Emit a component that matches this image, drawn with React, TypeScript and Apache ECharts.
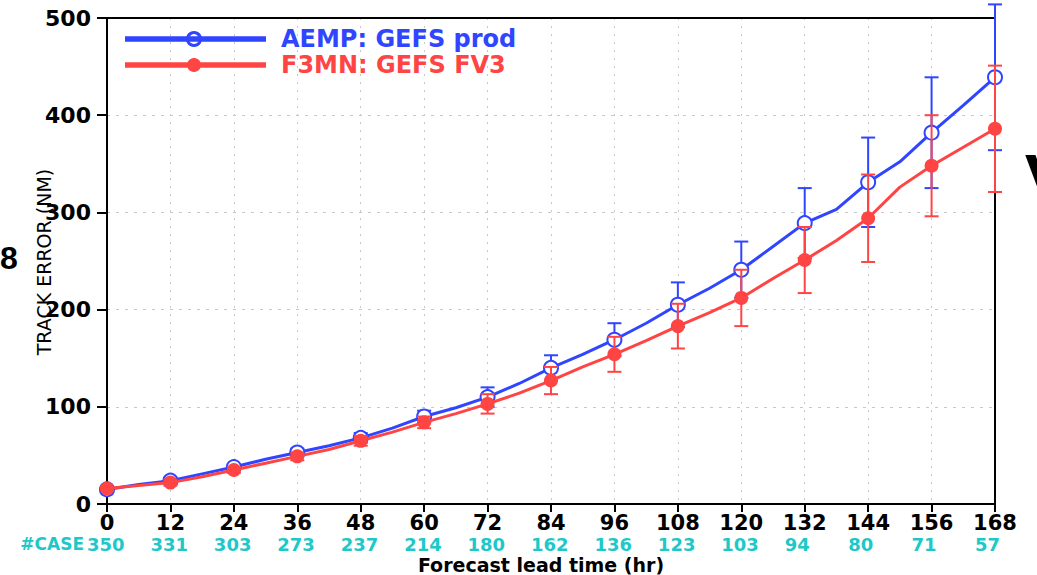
import React, { useEffect, useRef } from "react";
import * as echarts from "echarts";

// Forecast lead times (hours) of the plotted line points
const leadHours = [0, 6, 12, 18, 24, 30, 36, 42, 48, 54, 60, 66, 72, 78, 84, 90, 96, 102, 108, 114, 120, 126, 132, 138, 144, 150, 156, 162, 168];
// Mean track error (NM), 6-hourly
const aempTrack = [15, 20, 24, 31, 38, 46, 53, 60, 68, 78, 90, 99, 110, 124, 140, 154, 169, 186, 205, 222, 241, 265, 289, 303, 331, 352, 382, 410, 439];
const f3mnTrack = [16, 19, 22, 28, 35, 42, 49, 56, 65, 74, 84, 93, 103, 114, 127, 141, 154, 168, 183, 197, 212, 232, 251, 271, 294, 326, 348, 367, 386];
// 12-hourly marker / error bar times
const markerHours = [0, 12, 24, 36, 48, 60, 72, 84, 96, 108, 120, 132, 144, 156, 168];
// error bar half-widths (NM)
const aempErr = [2, 3, 3, 4, 5, 6, 10, 13, 17, 23, 29, 36, 46, 57, 75];
const f3mnErr = [2, 3, 3, 4, 5, 6, 10, 14, 18, 23, 29, 34, 45, 52, 65];
// number of cases
const caseCounts = [350, 331, 303, 273, 237, 214, 180, 162, 136, 123, 103, 94, 80, 71, 57];

const seriesNames = ["AEMP: GEFS prod", "F3MN: GEFS FV3"];
const BLUE = "#2f45ff";
const RED = "#ff4444";
const CYAN = "#1ec8c8";
const FONT = "DejaVu Sans";

function lineData(values: number[]) {
  return leadHours.map((h, i) =>
    markerHours.indexOf(h) >= 0 ? [h, values[i]] : { value: [h, values[i]], symbol: "none" }
  );
}

function errData(values: number[], errs: number[]) {
  return markerHours.map((h, i) => {
    const v = values[leadHours.indexOf(h)];
    return [h, v - errs[i], v + errs[i]];
  });
}

function errRender(color: string) {
  return (params: any, api: any) => {
    const x = api.value(0);
    const lo = api.coord([x, api.value(1)]);
    const hi = api.coord([x, api.value(2)]);
    const w = 7;
    const st = { stroke: color, lineWidth: 2 };
    return {
      type: "group",
      children: [
        { type: "line", shape: { x1: lo[0], y1: lo[1], x2: hi[0], y2: hi[1] }, style: st },
        { type: "line", shape: { x1: lo[0] - w, y1: lo[1], x2: lo[0] + w, y2: lo[1] }, style: st },
        { type: "line", shape: { x1: hi[0] - w, y1: hi[1], x2: hi[0] + w, y2: hi[1] }, style: st },
      ],
    };
  };
}

function caseRender(params: any, api: any) {
  const p = api.coord([api.value(0), 0]);
  return {
    type: "text",
    x: p[0] - 20,
    y: p[1] + 40,
    style: {
      text: String(caseCounts[params.dataIndex]),
      fill: CYAN,
      font: `bold 18px '${FONT}'`,
      align: "left",
      verticalAlign: "middle",
    },
  };
}

const frameAxis = {
  axisLine: { show: true, onZero: false, lineStyle: { color: "#000", width: 2 } },
  axisTick: { show: false },
  axisLabel: { show: false },
  splitLine: { show: false },
};

export default function App() {
  const ref = useRef<HTMLDivElement>(null);
  useEffect(() => {
    if (!ref.current) return;
    const chart = echarts.init(ref.current, null, { renderer: "svg" });
    chart.setOption({
      animation: false,
      backgroundColor: "#fff",
      grid: { left: 107, right: 42, top: 18, bottom: 71 },
      xAxis: [
        {
          type: "value",
          min: 0,
          max: 168,
          interval: 12,
          axisLine: { show: true, onZero: false, lineStyle: { color: "#000", width: 2 } },
          axisTick: { show: true, inside: false, length: 8, lineStyle: { color: "#000", width: 2 } },
          splitLine: { show: true, lineStyle: { color: "#c8c8c8", type: [2, 6], width: 1 } },
          axisLabel: {
            showMinLabel: true,
            showMaxLabel: true,
            margin: 8,
            fontSize: 21,
            fontWeight: "bold",
            color: "#000",
            fontFamily: FONT,
            lineHeight: 22,
          },
        },
        { type: "value", position: "top", min: 0, max: 168, interval: 12, ...frameAxis },
      ],
      yAxis: [
        {
          type: "value",
          min: 0,
          max: 500,
          interval: 100,
          axisLine: { show: true, onZero: false, lineStyle: { color: "#000", width: 2 } },
          axisTick: { show: true, inside: false, length: 10, lineStyle: { color: "#000", width: 2 } },
          splitLine: { show: true, lineStyle: { color: "#c8c8c8", type: [3, 6], width: 1 } },
          axisLabel: { fontSize: 22, fontWeight: "bold", color: "#000", fontFamily: FONT, margin: 16 },
        },
        { type: "value", position: "right", min: 0, max: 500, interval: 100, ...frameAxis },
      ],
      series: [
        {
          type: "custom",
          name: seriesNames[0] + " err",
          renderItem: errRender(BLUE),
          data: errData(aempTrack, aempErr),
          encode: { x: 0, y: [1, 2] },
          clip: false,
          z: 1,
        },
        {
          type: "line",
          name: seriesNames[0],
          data: lineData(aempTrack),
          symbol: "emptyCircle",
          symbolSize: 14,
          showAllSymbol: true,
          lineStyle: { color: BLUE, width: 3 },
          itemStyle: { color: BLUE, borderWidth: 2.5 },
          z: 2,
        },
        {
          type: "custom",
          name: seriesNames[1] + " err",
          renderItem: errRender(RED),
          data: errData(f3mnTrack, f3mnErr),
          encode: { x: 0, y: [1, 2] },
          clip: false,
          z: 3,
        },
        {
          type: "line",
          name: seriesNames[1],
          data: lineData(f3mnTrack),
          symbol: "circle",
          symbolSize: 14,
          showAllSymbol: true,
          lineStyle: { color: RED, width: 3 },
          itemStyle: { color: RED },
          z: 4,
        },
        {
          type: "custom",
          name: "#CASE",
          renderItem: caseRender,
          data: markerHours.map((h) => [h, 0]),
          encode: { x: 0, y: 1 },
          clip: false,
          silent: true,
          z: 5,
        },
      ],
      graphic: [
        { type: "line", shape: { x1: 125, y1: 39, x2: 266, y2: 39 }, style: { stroke: BLUE, lineWidth: 5.5 }, z: 10 },
        { type: "circle", shape: { cx: 194, cy: 39, r: 6.5 }, style: { fill: null, stroke: BLUE, lineWidth: 3 }, z: 11 },
        { type: "text", x: 281, y: 39, style: { text: seriesNames[0], fill: BLUE, font: `bold 24px '${FONT}'`, verticalAlign: "middle" }, z: 10 },
        { type: "line", shape: { x1: 125, y1: 65, x2: 266, y2: 65 }, style: { stroke: RED, lineWidth: 5.5 }, z: 10 },
        { type: "circle", shape: { cx: 194, cy: 65, r: 7 }, style: { fill: RED }, z: 11 },
        { type: "text", x: 281, y: 65, style: { text: seriesNames[1], fill: RED, font: `bold 24px '${FONT}'`, verticalAlign: "middle" }, z: 10 },
        { type: "text", x: 84, y: 544, style: { text: "#CASE", fill: CYAN, font: `bold 17px '${FONT}'`, align: "right", verticalAlign: "middle" } },
        { type: "text", x: 541, y: 565, style: { text: "Forecast lead time (hr)", fill: "#000", font: `bold 19px '${FONT}'`, align: "center", verticalAlign: "middle" } },
        { type: "text", x: 44, y: 262, rotation: Math.PI / 2, style: { text: "TRACK ERROR (NM)", fill: "#000", font: `19px '${FONT}'`, align: "center", verticalAlign: "middle" } },
        { type: "text", x: 0, y: 258, style: { text: "8", fill: "#000", font: `bold 32px 'Liberation Sans'`, verticalAlign: "middle" } },
        { type: "text", x: 1025, y: 148, style: { text: "V", fill: "#000", font: `bold 54px '${FONT}'`, verticalAlign: "top" } },
      ],
    });
    return () => chart.dispose();
  }, []);
  return <div ref={ref} style={{ position: "fixed", left: 0, top: 0, width: 1037, height: 575 }} />;
}
